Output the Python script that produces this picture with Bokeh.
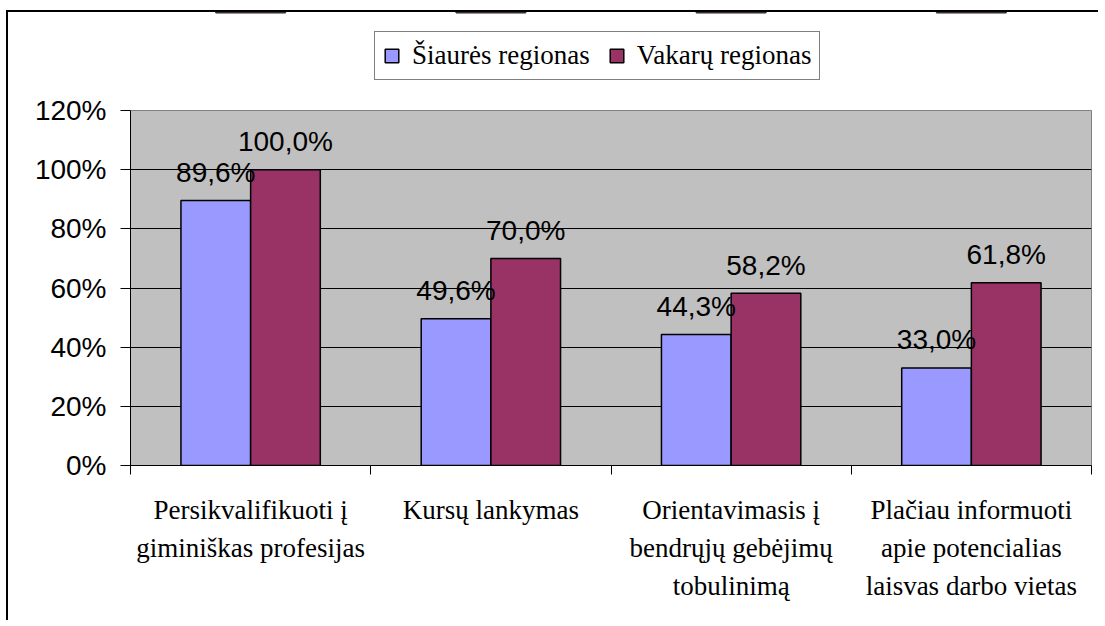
import numpy as np
from bokeh.plotting import figure
from bokeh.layouts import column
from bokeh.models import ColumnDataSource, Range1d, FixedTicker, Legend, LegendItem
from bokeh.transform import dodge
from bokeh.core.properties import value
from bokeh.embed import file_html
from bokeh.resources import INLINE

categories = [
    "Persikvalifikuoti į\ngiminiškas profesijas",
    "Kursų lankymas",
    "Orientavimasis į\nbendrųjų gebėjimų\ntobulinimą",
    "Plačiau informuoti\napie potencialias\nlaisvas darbo vietas",
]
series_names = ["Šiaurės regionas", "Vakarų regionas"]
north = [89.6, 49.6, 44.3, 33.0]
west = [100.0, 70.0, 58.2, 61.8]
y_ticks = [0, 20, 40, 60, 80, 100, 120]

BLUE = "#9999FF"
RED = "#993366"
GRAY = "#C0C0C0"
SERIF = "Liberation Serif"
SANS = "Liberation Sans"
FS_SERIF = "27px"
FS_SANS = "28px"

xs = np.arange(len(categories)) + 0.5
fmt = lambda v: f"{v:.1f}%".replace(".", ",")
src = ColumnDataSource(dict(
    x=xs, north=north, west=west,
    north_lbl=[fmt(v) for v in north], west_lbl=[fmt(v) for v in west],
))

# ---------------- main chart ----------------
p = figure(width=1090, height=530,
           min_border_left=122, min_border_right=7,
           min_border_top=20, min_border_bottom=155,
           x_range=Range1d(0, len(categories)), y_range=Range1d(0, 120),
           output_backend="svg", toolbar_location=None,
           background_fill_color=GRAY, border_fill_color="white")
p.outline_line_color = "#808080"
p.outline_line_width = 1

bw = 0.29
p.vbar(x=dodge("x", -bw / 2, range=p.x_range), top="north", width=bw, source=src,
       fill_color=BLUE, line_color="black", line_width=1.5)
p.vbar(x=dodge("x", bw / 2, range=p.x_range), top="west", width=bw, source=src,
       fill_color=RED, line_color="black", line_width=1.5)

for col, lbl, off in (("north", "north_lbl", -bw / 2), ("west", "west_lbl", bw / 2)):
    p.text(x=dodge("x", off, range=p.x_range), y=col, text=lbl, source=src,
           text_font=value(SANS), text_font_size=FS_SANS, text_color="black",
           text_align="center", text_baseline="alphabetic", y_offset=-28)

p.yaxis.ticker = FixedTicker(ticks=y_ticks)
p.yaxis.major_label_overrides = {t: f"{t}%" for t in y_ticks}
p.yaxis.major_label_text_font = SANS
p.yaxis.major_label_text_font_size = FS_SANS
p.yaxis.major_label_text_color = "black"
p.yaxis.major_tick_out = 10
p.yaxis.major_tick_in = 0
p.yaxis.minor_tick_line_color = None
p.yaxis.major_label_standoff = 14
p.yaxis.axis_line_color = "black"
p.yaxis.major_tick_line_color = "black"

p.xaxis.ticker = FixedTicker(ticks=list(xs), minor_ticks=list(range(len(categories) + 1)))
p.xaxis.major_label_overrides = {float(x): c for x, c in zip(xs, categories)}
p.xaxis.major_label_text_font = SERIF
p.xaxis.major_label_text_font_size = FS_SERIF
p.xaxis.major_label_text_color = "black"
p.xaxis.major_label_text_line_height = 1.27
p.xaxis.major_tick_out = 0
p.xaxis.major_tick_in = 0
p.xaxis.minor_tick_out = 9
p.xaxis.minor_tick_in = 0
p.xaxis.minor_tick_line_color = "black"
p.xaxis.major_label_standoff = 20
p.xaxis.axis_line_color = "black"

p.xgrid.grid_line_color = None
p.ygrid.grid_line_color = "black"
p.ygrid.grid_line_width = 1

# ---------------- legend strip ----------------
# same series drawn into a strip whose y range lies below the bars (so nothing shows),
# only its legend is visible
lf = figure(width=1090, height=78, min_border=0,
            x_range=Range1d(0, len(categories)), y_range=Range1d(-2, -1),
            x_axis_type=None, y_axis_type=None,
            output_backend="svg", toolbar_location=None,
            background_fill_color="white", border_fill_color="white")
lf.outline_line_color = None
lf.xgrid.grid_line_color = None
lf.ygrid.grid_line_color = None
g1 = lf.vbar(x="x", top="north", width=bw, source=src,
             fill_color=BLUE, line_color="black", line_width=1.5)
g2 = lf.vbar(x="x", top="west", width=bw, source=src,
             fill_color=RED, line_color="black", line_width=1.5)

legend = Legend(items=[LegendItem(label=series_names[0], renderers=[g1]),
                       LegendItem(label=series_names[1], renderers=[g2])],
                orientation="horizontal", location=(244, 10),
                glyph_width=17, glyph_height=17, label_standoff=12, spacing=18,
                padding=8, margin=0, label_height=28,
                label_text_font=SERIF, label_text_font_size=FS_SERIF, label_text_color="black",
                border_line_color="black", border_line_width=1,
                background_fill_color="white", background_fill_alpha=1)
lf.add_layout(legend, "center")

page = column(lf, p, spacing=0,
              styles={"margin-left": "6px", "margin-top": "10px",
                      "border-left": "2px solid black", "border-top": "2px solid black"})

open("out.html", "w").write(file_html(page, INLINE))
